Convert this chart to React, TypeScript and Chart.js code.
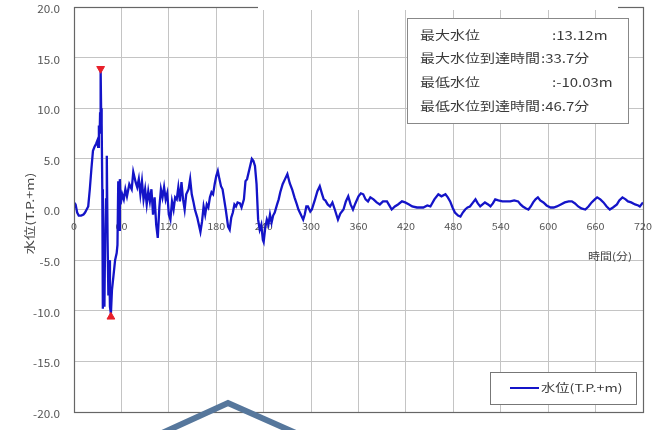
import { useEffect, useRef } from 'react';
import { Chart, registerables } from 'chart.js';

Chart.register(...registerables);

const FONT = '"Noto Sans CJK JP", "Noto Sans", sans-serif';

// 時間(分)
const times = [
  0, 2, 4, 6, 9, 12, 14, 16, 18, 20, 22, 24, 26, 28, 29.5, 30.5, 31.5, 32.5, 33, 33.7,
  34.3, 35, 35.8, 36.5, 37.5, 38.5, 39.5, 40.5, 41.5, 42.5, 43.5, 44.5, 45.5, 46.7, 48, 50,
  52, 54, 55, 56, 57, 58, 59, 61, 63, 65, 67, 70, 73, 75, 78, 80, 82, 84, 86, 88, 90, 92,
  94, 96, 98, 100, 102, 104, 106, 108, 110, 112, 114, 116, 118, 120, 122, 124, 126, 128,
  130, 132, 134, 136, 138, 140, 142, 145, 147, 149, 151, 153, 156, 158, 160, 162, 164, 166,
  168, 170, 172, 174, 176, 178, 180, 182, 184, 186, 188, 190, 192, 195, 197, 199, 201, 203,
  205, 207, 210, 212, 215, 217, 219, 222, 225, 227, 229, 231, 233, 235, 237, 239, 240, 242,
  244, 246, 248, 250, 252, 254, 257, 259, 261, 264, 267, 270, 273, 276, 279, 282, 284, 287,
  290, 292, 294, 296, 299, 301, 303, 305, 308, 311, 314, 316, 318, 321, 324, 327, 330, 334,
  337, 341, 344, 347, 350, 353, 356, 360, 363, 366, 369, 372, 375, 379, 383, 387, 391, 396,
  399, 402, 406, 410, 415, 419, 424, 428, 434, 442, 447, 451, 456, 461, 465, 470, 473, 476,
  479, 482, 486, 489, 492, 495, 498, 501, 505, 508, 511, 514, 517, 520, 524, 527, 530, 533,
  537, 542, 547, 552, 557, 562, 565, 568, 572, 575, 578, 581, 584, 587, 590, 594, 598, 603,
  607, 611, 616, 621, 626, 630, 634, 638, 642, 647, 651, 655, 659, 662, 666, 670, 674, 678,
  682, 687, 690, 694, 698, 701, 705, 710, 714, 716, 720,
];

// 水位(T.P.+m)
const levels = [
  0.7, 0.5, -0.3, -0.6, -0.6, -0.5, -0.3, 0, 0.3, 2.0, 4.0, 5.8, 6.2, 6.5, 6.8, 6.2, 8.3, 7.5, 9.5, 13.8,
  10.0, 8.5, 2.0, -9.8, -4.0, -9.6, -2.0, 1.0, 5.3, -3.0, -8.5, -5.0, -9.6, -10.3, -8.0, -6.5,
  -5.0, -4.3, -3.5, 2.8, -2.0, 3.0, 0.5, 1.5, 1.0, 2.0, 1.3, 2.5, 2.0, 3.7, 2.7, 2.2, 3.0, 1.5, 2.8, 1.0, 2.0, 0.5,
  1.8, 0.8, 2.0, -0.5, 1.2, -1.5, -2.8, 0.2, 2.0, 1.2, 2.2, 1.0, 1.6, -0.5, -1.0, 0.8, 0, 1.2,
  1.0, 2.2, 0.8, 2.7, 1.0, 0, 1.5, 2.0, 3.0, 1.5, 0.8, 0, -0.8, -1.5, -2.2, -1.2, 0.3, -0.5,
  0.5, 0.2, 1.2, 1.7, 1.5, 2.5, 3.3, 3.8, 3.0, 2.3, 2.0, 1.0, 0, -1.7, -2.0, -0.8, -0.3, 0.5,
  0.3, 0.7, 0.6, 0.2, 1.0, 2.8, 3.0, 4.0, 5.0, 4.8, 4.3, 2.5, -1.0, -2.0, -1.5, -3.0, -3.2, -1.8,
  -1.0, -1.5, -0.5, -1.3, -0.6, -0.3, 0.5, 1.0, 1.7, 2.5, 3.0, 3.5, 2.6, 2.0, 1.2, 0.5, 0, -0.5,
  -1.0, -0.5, 0.3, 0.3, -0.2, 0, 0.5, 1.0, 1.8, 2.3, 1.5, 1.0, 0.9, 0.5, 0.3, 0.7, 0, -1.0,
  -0.4, 0, 0.8, 1.3, 0.5, 0, 0.6, 1.3, 1.6, 1.5, 1.0, 0.8, 1.2, 1.0, 0.7, 0.5, 0.8, 0.8,
  0.4, 0, 0.3, 0.5, 0.8, 0.7, 0.5, 0.3, 0.2, 0.2, 0.4, 0.3, 1.0, 1.5, 1.3, 1.5, 1.2, 0.8,
  0.2, -0.3, -0.6, -0.7, -0.3, 0, 0.2, 0.3, 0.7, 1.0, 0.6, 0.3, 0.5, 0.7, 0.5, 0.3, 0.6, 1.0,
  0.9, 0.8, 0.8, 0.8, 0.9, 0.8, 0.5, 0.3, 0.1, 0, 0.3, 0.7, 1.0, 1.2, 0.9, 0.7, 0.4, 0.2,
  0.2, 0.3, 0.5, 0.7, 0.8, 0.8, 0.6, 0.3, 0.1, 0, 0.3, 0.7, 1.0, 1.2, 1.0, 0.7, 0.3, 0,
  0.2, 0.5, 0.9, 1.2, 1.0, 0.8, 0.7, 0.5, 0.4, 0.3, 0.7,
];

// 最大・最低水位のマーカー
const extremeTimes = [33.7, 46.7];
const extremeLevels = [13.9, -10.6];
const extremeRotations = [180, 0];

const statLabels = ['最大水位', '最大水位到達時間', '最低水位', '最低水位到達時間'];
const statValues = [':13.12m', ':33.7分', ':-10.03m', ':46.7分'];

const seriesLabel = '水位(T.P.+m)';
const xTitle = '時間(分)';
const yTitle = '水位(T.P.+m)';

function stretchedText(ctx: CanvasRenderingContext2D, text: string, x: number, y: number, sx: number) {
  ctx.save();
  ctx.translate(x, y);
  ctx.scale(sx, 1);
  ctx.fillText(text, 0, 0);
  ctx.restore();
}

const overlayPlugin = {
  id: 'overlay',
  beforeDatasetsDraw(chart: any) {
    const ctx: CanvasRenderingContext2D = chart.ctx;
    const xs = chart.scales.x;
    const ys = chart.scales.y;
    const y0 = ys.getPixelForValue(0);
    const a = chart.chartArea;
    ctx.save();
    ctx.textBaseline = 'middle';

    // x tick labels along the zero line
    ctx.fillStyle = '#555';
    ctx.font = `9px ${FONT}`;
    xs.ticks.forEach((t: any) => {
      const label = String(t.value);
      const px = xs.getPixelForValue(t.value);
      const w = ctx.measureText(label).width * 1.2;
      stretchedText(ctx, label, px - w / 2, y0 + 17, 1.2);
    });

    // y tick labels
    ctx.font = `10.5px ${FONT}`;
    ys.ticks.forEach((t: any) => {
      const label = Number(t.value).toFixed(1);
      const py = ys.getPixelForValue(t.value);
      const w = ctx.measureText(label).width * 1.12;
      stretchedText(ctx, label, 60 - w, py + 2, 1.12);
    });

    ctx.fillStyle = '#444';
    ctx.font = `10px ${FONT}`;
    stretchedText(ctx, xTitle, 588, y0 + 47, 1.2);

    // y axis title, rotated
    ctx.font = `11px ${FONT}`;
    ctx.fillStyle = '#444';
    const tw = ctx.measureText(yTitle).width * 1.3;
    ctx.translate(30, (a.top + a.bottom) / 2 + 4);
    ctx.rotate(-Math.PI / 2);
    stretchedText(ctx, yTitle, -tw / 2, 0, 1.3);
    ctx.restore();
  },
  afterDraw(chart: any) {
    const ctx: CanvasRenderingContext2D = chart.ctx;
    const a = chart.chartArea;
    ctx.save();
    // frame
    ctx.strokeStyle = '#666';
    ctx.lineWidth = 1.2;
    ctx.strokeRect(a.left + 0.5, a.top + 0.5, a.right - a.left, a.bottom - a.top);

    // stats box
    ctx.fillStyle = '#fff';
    ctx.fillRect(407, 18, 221, 105);
    ctx.strokeStyle = '#888';
    ctx.lineWidth = 1;
    ctx.strokeRect(407.5, 18.5, 221, 105);
    ctx.fillStyle = '#3a3a3a';
    ctx.font = `12px ${FONT}`;
    ctx.textBaseline = 'middle';
    const sx = 1.25;
    statLabels.forEach((lab, i) => {
      const y = 35 + i * 23.7;
      stretchedText(ctx, lab, 420, y, sx);
      const end = 420 + ctx.measureText(lab).width * sx + 1;
      stretchedText(ctx, statValues[i], lab.length > 4 ? end : 552, y, sx);
    });

    // legend
    const ds = chart.data.datasets[0];
    ctx.fillStyle = '#fff';
    ctx.fillRect(490, 372, 146, 32);
    ctx.strokeStyle = '#777';
    ctx.strokeRect(490.5, 372.5, 146, 32);
    ctx.strokeStyle = ds.borderColor;
    ctx.lineWidth = 2;
    ctx.beginPath();
    ctx.moveTo(510, 388);
    ctx.lineTo(539, 388);
    ctx.stroke();
    ctx.fillStyle = '#3a3a3a';
    ctx.font = `11px ${FONT}`;
    stretchedText(ctx, ds.label, 541, 388, 1.3);
    ctx.restore();
  },
};

export default function App() {
  const ref = useRef<HTMLCanvasElement | null>(null);

  useEffect(() => {
    if (!ref.current) return;
    const chart = new Chart(ref.current, {
      type: 'line',
      data: {
        datasets: [
          {
            label: seriesLabel,
            data: times.map((t, i) => ({ x: t, y: levels[i] })),
            borderColor: '#1414c8',
            borderWidth: 2.3,
            pointRadius: 0,
            tension: 0,
            order: 2,
          },
          {
            label: 'extremes',
            data: extremeTimes.map((t, i) => ({ x: t, y: extremeLevels[i] })),
            showLine: false,
            pointStyle: 'triangle',
            rotation: extremeRotations,
            pointRadius: 4.5,
            backgroundColor: '#e8202a',
            borderColor: '#e8202a',
            borderWidth: 1,
            order: 1,
          } as any,
        ],
      },
      options: {
        responsive: false,
        animation: false,
        layout: { padding: { top: 7, right: 9, left: 0, bottom: 0 } },
        plugins: { legend: { display: false }, tooltip: { enabled: false } },
        scales: {
          x: {
            type: 'linear',
            min: 0,
            max: 720,
            ticks: { stepSize: 60, display: false },
            grid: { color: '#c4c4c4', drawTicks: false },
            border: { display: false },
            afterFit: (s: any) => {
              s.height = 18;
            },
          },
          y: {
            type: 'linear',
            min: -20,
            max: 20,
            ticks: { stepSize: 5, display: false },
            grid: { color: '#c4c4c4', drawTicks: false },
            border: { display: false },
            title: { display: false, text: yTitle },
            afterFit: (s: any) => {
              s.width = 74;
            },
          },
        },
      },
      plugins: [overlayPlugin],
    });
    return () => chart.destroy();
  }, []);

  return (
    <div style={{ position: 'fixed', left: 0, top: 0, width: 652, height: 430, background: '#fff', overflow: 'hidden' }}>
      <canvas ref={ref} width={652} height={430} style={{ position: 'absolute', left: 0, top: 0 }} />
      <div style={{ position: 'absolute', left: 258, top: 0, width: 360, height: 10, background: '#fff' }} />
      <svg width={652} height={430} style={{ position: 'absolute', left: 0, top: 0, pointerEvents: 'none' }}>
        <polyline points="160,434 228,403 298,434" fill="none" stroke="#56779c" strokeWidth={6} />
      </svg>
    </div>
  );
}
